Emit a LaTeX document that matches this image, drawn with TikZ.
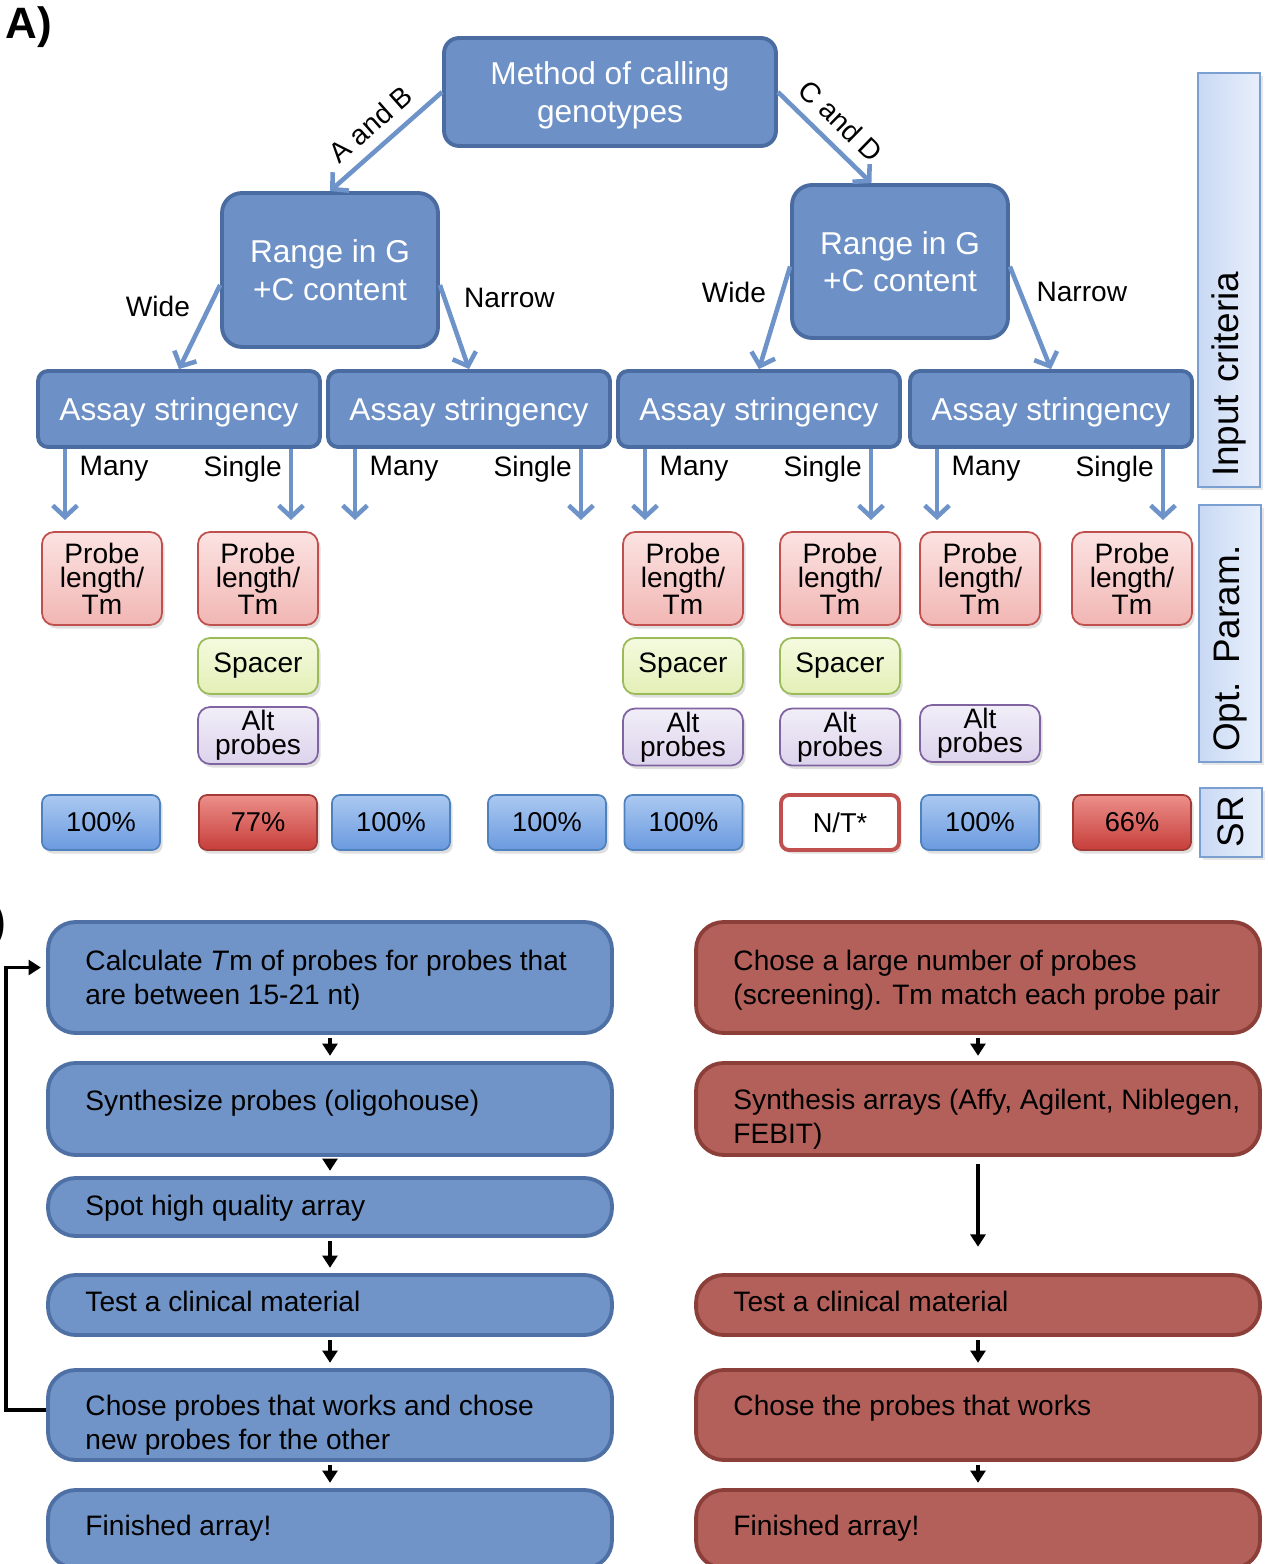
\documentclass[tikz,border=0pt]{standalone}
\usepackage{fontspec}
\setmainfont{Liberation Sans}
\usetikzlibrary{positioning, arrows.meta, shadows}

\definecolor{methodfill}{HTML}{6D91C6}
\definecolor{methodedge}{HTML}{4A6CA0}
\definecolor{arrowblue}{HTML}{6E93C9}
\definecolor{probetop}{HTML}{FBE3E2}
\definecolor{probebot}{HTML}{F1B6B3}
\definecolor{probeedge}{HTML}{C0504D}
\definecolor{spacertop}{HTML}{F5FADF}
\definecolor{spacerbot}{HTML}{E3EFB6}
\definecolor{spaceredge}{HTML}{9BBB59}
\definecolor{alttop}{HTML}{F1EEF8}
\definecolor{altbot}{HTML}{DCD3EC}
\definecolor{altedge}{HTML}{8064A2}
\definecolor{srtop}{HTML}{ABC9F1}
\definecolor{srbot}{HTML}{6A9ADF}
\definecolor{sredge}{HTML}{4F81BD}
\definecolor{lowtop}{HTML}{EC8F8A}
\definecolor{lowbot}{HTML}{C73E3A}
\definecolor{lowedge}{HTML}{A33A36}
\definecolor{sideleft}{HTML}{C9D9F4}
\definecolor{sideright}{HTML}{E8EFFB}
\definecolor{sideedge}{HTML}{7C9FD2}
\definecolor{stepblue}{HTML}{7094C8}
\definecolor{stepblueedge}{HTML}{4E70A4}
\definecolor{stepred}{HTML}{B4605A}
\definecolor{steprededge}{HTML}{8C3E39}

\tikzset{
    decision/.style={draw=methodedge, fill=methodfill, line width=2.2pt, rounded corners=0.3cm,
        text=white, align=center, inner sep=0pt, text depth=0pt, font=\fontsize{18}{21.5}\selectfont},
    choice/.style={draw=arrowblue, line width=2.6pt, -{Straight Barb[length=6.5pt,width=14pt]}},
    branch/.style={inner sep=0pt, font=\fontsize{16}{19}\selectfont},
    param/.style={rounded corners=0.24cm, line width=1pt, align=center, inner sep=0pt,
        minimum width=2.4cm, font=\fontsize{16}{13.6}\selectfont,
        drop shadow={opacity=0.25, shadow xshift=1.5pt, shadow yshift=-2pt}},
    probe/.style={param, draw=probeedge, top color=probetop, bottom color=probebot, minimum height=1.86cm},
    spacer/.style={param, draw=spaceredge, top color=spacertop, bottom color=spacerbot, minimum height=1.12cm},
    altprobe/.style={param, draw=altedge, top color=alttop, bottom color=altbot, minimum height=1.14cm},
    rate/.style={rounded corners=0.16cm, line width=1pt, inner sep=0pt, minimum width=2.36cm,
        minimum height=1.1cm, font=\fontsize{15.5}{19}\selectfont,
        drop shadow={opacity=0.25, shadow xshift=1.5pt, shadow yshift=-2pt}},
    highrate/.style={rate, draw=sredge, top color=srtop, bottom color=srbot},
    lowrate/.style={rate, draw=lowedge, top color=lowtop, bottom color=lowbot},
    untested/.style={rate, draw=probeedge, line width=2.2pt, fill=white},
    sidebox/.style={draw=sideedge, line width=1pt, left color=sideleft, right color=sideright,
        rotate=90, minimum height=1.24cm, inner xsep=0.2cm, inner ysep=0pt, align=left,
        font=\fontsize{21}{25}\selectfont,
        drop shadow={opacity=0.2, shadow xshift=1.5pt, shadow yshift=-1.5pt}},
    stepL/.style={draw=stepblueedge, fill=stepblue, line width=2.2pt, rounded corners=0.55cm,
        minimum width=11.28cm, inner sep=0pt},
    stepR/.style={stepL, draw=steprededge, fill=stepred},
    steptext/.style={anchor=west, align=left, inner sep=0pt, text depth=0pt, font=\fontsize{16}{19.3}\selectfont},
    flow/.style={line width=2.2pt, -{Triangle[length=7pt,width=8.5pt]}, shorten <=2pt, shorten >=3pt},
    panel/.style={inner sep=0pt, font=\fontsize{25}{30}\selectfont\bfseries}
}

\begin{document}
\begin{tikzpicture}[x=0.02cm, y=0.02cm]
    \useasboundingbox (0,0) rectangle (1267,-1564);

    \node[panel] (partA) at (29,-27) {A)};
    \node[panel, anchor=east] (partB) at (6,-925) {B)};

    % input criteria
    \node[decision, minimum width=6.64cm, minimum height=2.16cm] (method) at (610,-92) {Method of calling\\genotypes};
    \node[decision, minimum width=4.32cm, minimum height=3.08cm, rounded corners=0.4cm] (rangeL) at (330,-270) {Range in G\\+C content};
    \node[decision, minimum width=4.32cm, minimum height=3.06cm, rounded corners=0.4cm] (rangeR) at (900,-261.5) {Range in G\\+C content};
    \foreach \n/\x in {1/179, 2/469, 3/759, 4/1051}
        \node[decision, minimum width=5.64cm, minimum height=1.52cm, rounded corners=0.2cm] (assay\n) at (\x,-409) {Assay stringency};

    \draw[choice] (method.west) -- node[branch, sloped, above=6pt] {A and B} (rangeL.north);
    \draw[choice] (method.east) -- node[branch, sloped, above=6pt] {C and D} (rangeR.110);
    \draw[choice] ([yshift=-0.3cm]rangeL.west) -- node[branch, pos=0.25, left=10pt] {Wide} (assay1.north);
    \draw[choice] ([yshift=-0.3cm]rangeL.east) -- node[branch, pos=0.15, right=10pt] {Narrow} (assay2.north);
    \draw[choice] ([yshift=-0.1cm]rangeR.west) -- node[branch, pos=0.25, left=8pt] {Wide} (assay3.north);
    \draw[choice] ([yshift=-0.1cm]rangeR.east) -- node[branch, pos=0.25, right=8pt] {Narrow} (assay4.north);

    \foreach \n/\x in {1/179, 2/469, 3/759, 4/1051} {
        \coordinate (many\n) at (\x-114,-520);
        \coordinate (single\n) at (\x+112,-520);
        \draw[choice] (assay\n.south -| many\n) -- node[branch, pos=0.28, right=7pt] {Many} (many\n);
        \draw[choice] (assay\n.south -| single\n) -- node[branch, pos=0.28, left=4pt] {Single} (single\n);
    }

    % optimised parameters
    \foreach \c/\x in {1/102, 2/258, 5/683, 6/840, 7/980, 8/1132}
        \node[probe] (probe\c) at (\x,-578.5) {Probe\\length/\\Tm};
    \foreach \c/\x in {2/258, 5/683, 6/840}
        \node[spacer] (spacer\c) at (\x,-666) {Spacer};
    \foreach \c/\x/\y in {2/258/735.5, 5/683/737, 6/840/737, 7/980/733.5}
        \node[altprobe] (alt\c) at (\x,-\y) {Alt\\probes};

    % success rates
    \node[highrate] (sr1) at (101,-822.5) {100\%};
    \node[lowrate] (sr2) at (258,-822.5) {77\%};
    \node[highrate] (sr3) at (391,-822.5) {100\%};
    \node[highrate] (sr4) at (547,-822.5) {100\%};
    \node[highrate] (sr5) at (683.5,-822.5) {100\%};
    \node[untested] (sr6) at (840,-822.5) {N/T*};
    \node[highrate] (sr7) at (980,-822.5) {100\%};
    \node[lowrate] (sr8) at (1132,-822.5) {66\%};

    \node[sidebox, minimum width=8.28cm, text width=7.88cm] (inputside) at (1229,-280) {Input criteria};
    \node[sidebox, minimum width=5.14cm, text width=4.74cm] (optside) at (1230,-633.5) {Opt. Param.};
    \node[sidebox, minimum width=1.38cm, text width=0.98cm] (srside) at (1231,-822.5) {SR};

    % B) left: spotted arrays
    \node[stepL, minimum height=2.22cm] (L1) at (330,-977.5) {};
    \node[stepL, minimum height=1.84cm] (L2) at (330,-1109) {};
    \node[stepL, minimum height=1.16cm] (L3) at (330,-1207) {};
    \node[stepL, minimum height=1.2cm] (L4) at (330,-1305) {};
    \node[stepL, minimum height=1.8cm] (L5) at (330,-1415) {};
    \node[stepL, minimum height=1.56cm] (L6) at (330,-1529) {};
    \node[steptext] (L1text) at ([xshift=0.78cm]L1.west) {Calculate \textit{T}m of probes for probes that\\are between 15-21 nt)};
    \node[steptext] (L2text) at ([xshift=0.78cm, yshift=0.18cm]L2.west) {Synthesize probes (oligohouse)};
    \node[steptext] (L3text) at ([xshift=0.78cm, yshift=0.04cm]L3.west) {Spot high quality array};
    \node[steptext] (L4text) at ([xshift=0.78cm, yshift=0.08cm]L4.west) {Test a clinical material};
    \node[steptext] (L5text) at ([xshift=0.78cm, yshift=-0.14cm]L5.west) {Chose probes that works and chose\\new probes for the other};
    \node[steptext] (L6text) at ([xshift=0.78cm, yshift=0.08cm]L6.west) {Finished array!};

    \draw[flow] (L1) -- (L2);
    \draw[flow] (L2) -- (L3);
    \draw[flow] (L3) -- (L4);
    \draw[flow] (L4) -- (L5);
    \draw[flow] (L5) -- (L6);
    \draw[flow, shorten <=0pt] ([yshift=0.1cm]L5.west) -- ++(-40,0) |- ([yshift=0.2cm]L1.west);

    % B) right: synthesised arrays
    \node[stepR, minimum height=2.22cm] (R1) at (978,-977.5) {};
    \node[stepR, minimum height=1.84cm] (R2) at (978,-1109) {};
    \node[stepR, minimum height=1.2cm] (R4) at (978,-1305) {};
    \node[stepR, minimum height=1.8cm] (R5) at (978,-1415) {};
    \node[stepR, minimum height=1.56cm] (R6) at (978,-1529) {};
    \node[steptext] (R1text) at ([xshift=0.78cm]R1.west) {Chose a large number of probes\\(screening). Tm match each probe pair};
    \node[steptext] (R2text) at ([xshift=0.78cm, yshift=-0.14cm]R2.west) {Synthesis arrays (Affy, Agilent, Niblegen,\\FEBIT)};
    \node[steptext] (R4text) at ([xshift=0.78cm, yshift=0.08cm]R4.west) {Test a clinical material};
    \node[steptext] (R5text) at ([xshift=0.78cm, yshift=0.2cm]R5.west) {Chose the probes that works};
    \node[steptext] (R6text) at ([xshift=0.78cm, yshift=0.08cm]R6.west) {Finished array!};

    \draw[flow] (R1) -- (R2);
    \draw[flow, shorten <=4pt, shorten >=15pt] (R2) -- (R4);
    \draw[flow] (R4) -- (R5);
    \draw[flow] (R5) -- (R6);
\end{tikzpicture}
\end{document}
